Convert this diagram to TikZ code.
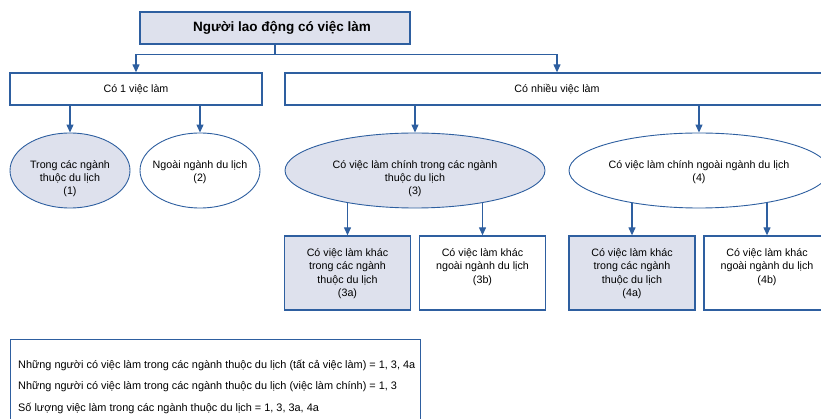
\documentclass[tikz,border=0pt]{standalone}
\usepackage{fontspec}
\setmainfont{Liberation Sans}
\usetikzlibrary{arrows.meta,shapes.geometric,backgrounds}
\definecolor{lineblue}{RGB}{46,95,160}
\definecolor{fillgray}{RGB}{222,225,237}
\tikzset{
  box/.style={draw=lineblue,line width=1.3pt,rectangle,inner sep=0pt},
  ell/.style={draw=lineblue,line width=0.9pt,ellipse,inner sep=0pt,minimum width=260pt,minimum height=75pt},
  ellsmall/.style={ell,minimum width=120pt},
  smallbox/.style={box,minimum width=126pt,minimum height=74pt},
  txt/.style={inner sep=0pt,align=center,font=\fontsize{10.7}{13.4}\selectfont},
  ltxt/.style={inner sep=0pt,anchor=west,font=\fontsize{10.9}{13.4}\selectfont},
  conn/.style={draw=lineblue,line width=1.2pt},
  arr/.style={conn,-{Triangle[length=8pt,width=7pt]}},
  shaded/.style={fill=fillgray},
  plain/.style={fill=white}
}
\begin{document}
\begin{tikzpicture}[x=1pt,y=-1pt]
\useasboundingbox (0,0) rectangle (821,419);
\clip (0,0) rectangle (821,419);
% top
\node[box,shaded,minimum width=270pt,minimum height=32pt] (top) at (275,28) {};
\node[inner sep=0pt,font=\fontsize{13.5}{16}\selectfont\bfseries] (toptxt) at ([xshift=7pt]top.center) {Người lao động có việc làm};
% level 2
\node[box,plain,minimum width=252pt,minimum height=32pt,txt] (co1) at (136,89) {Có 1 việc làm};
\node[box,plain,minimum width=544pt,minimum height=32pt,txt] (conhieu) at (557,89) {Có nhiều việc làm};
% ellipses
\node[ellsmall,shaded] (e1) at (70,170.5) {};
\node[ellsmall,plain] (e2) at (200,170.5) {};
\node[ell,shaded] (e3) at (415,170.5) {};
\node[ell,plain] (e4) at (699,170.5) {};
\node[txt,anchor=north] (t1) at ([yshift=-27.5pt]e1.north) {Trong các ngành\\thuộc du lịch\\(1)};
\node[txt,anchor=north] (t2) at ([yshift=-27.5pt]e2.north) {Ngoài ngành du lịch\\(2)};
\node[txt,anchor=north] (t3) at ([yshift=-27.5pt]e3.north) {Có việc làm chính trong các ngành\\thuộc du lịch\\(3)};
\node[txt,anchor=north] (t4) at ([yshift=-27.5pt]e4.north) {Có việc làm chính ngoài ngành du lịch\\(4)};
% bottom boxes
\node[smallbox,shaded] (b3a) at (347.5,273) {};
\node[smallbox,plain] (b3b) at (482.5,273) {};
\node[smallbox,shaded] (b4a) at (632,273) {};
\node[smallbox,plain] (b4b) at (767,273) {};
\node[txt,anchor=north] (tb3a) at ([yshift=-13pt]b3a.north) {Có việc làm khác\\trong các ngành\\thuộc du lịch\\(3a)};
\node[txt,anchor=north] (tb3b) at ([yshift=-13pt]b3b.north) {Có việc làm khác\\ngoài ngành du lịch\\(3b)};
\node[txt,anchor=north] (tb4a) at ([yshift=-13pt]b4a.north) {Có việc làm khác\\trong các ngành\\thuộc du lịch\\(4a)};
\node[txt,anchor=north] (tb4b) at ([yshift=-13pt]b4b.north) {Có việc làm khác\\ngoài ngành du lịch\\(4b)};
% legend
\node[box,plain,minimum width=410pt,minimum height=120pt,anchor=north west] (legend) at (10,339) {};
\node[ltxt] (l1) at (18,365.5) {Những người có việc làm trong các ngành thuộc du lịch (tất cả việc làm) = 1, 3, 4a};
\node[ltxt] (l2) at (18,387) {Những người có việc làm trong các ngành thuộc du lịch (việc làm chính) = 1, 3};
\node[ltxt] (l3) at (18,408.5) {Số lượng việc làm trong các ngành thuộc du lịch = 1, 3, 3a, 4a};
% connectors
\draw[conn] (top.south) -- ++(0,10) coordinate (j);
\draw[arr] (j) -| (co1.north);
\draw[arr] (j) -| (conhieu.north);
\draw[arr] (e1.north |- co1.south) -- (e1.north);
\draw[arr] (e2.north |- co1.south) -- (e2.north);
\draw[arr] (e3.north |- conhieu.south) -- (e3.north);
\draw[arr] (e4.north |- conhieu.south) -- (e4.north);
\begin{scope}[on background layer]
\draw[arr] (b3a.north |- e3.center) -- (b3a.north);
\draw[arr] (b3b.north |- e3.center) -- (b3b.north);
\draw[arr] (b4a.north |- e4.center) -- (b4a.north);
\draw[arr] (b4b.north |- e4.center) -- (b4b.north);
\end{scope}
\end{tikzpicture}
\end{document}
